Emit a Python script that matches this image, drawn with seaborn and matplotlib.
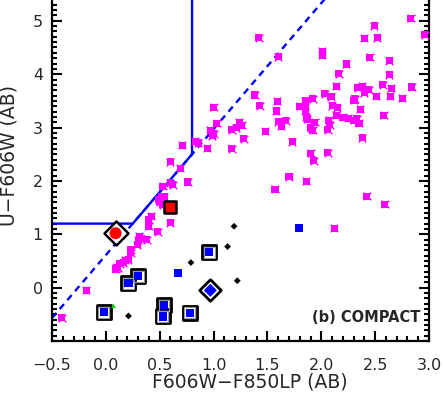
import matplotlib
matplotlib.use("Agg")
import matplotlib.pyplot as plt
import seaborn as sns
import numpy as np
import pandas as pd
from matplotlib.ticker import MultipleLocator, FixedLocator

# ---------------- data ----------------
mag_x = [1.42, 1.60, 2.01, 2.01, 2.83, 2.49, 2.40, 2.52, 2.96, 2.45, 2.23, 2.63, 2.16, 2.63,
         2.14, 2.34, 2.38, 2.44, 2.40, 2.57, 2.65, 2.84, 1.38, 1.43, 1.59, 1.58, 1.60, 1.63,
         1.67, 1.48, 1.28, 1.17, 1.17, 1.21, 1.24, 1.26, 1.73, 1.80, 1.85, 1.85, 1.85, 1.86,
         1.87, 1.92, 1.90, 1.92, 1.94, 2.03, 2.09, 2.10, 2.15, 2.14, 2.07, 2.08, 2.06, 2.20,
         2.25, 2.30, 2.33, 2.35, 2.30, 2.31, 2.36, 2.51, 2.64, 2.75, 2.58, 2.38, 1.90, 2.06,
         1.93, 1.70, 1.86, 1.57, 2.42, 2.59, 2.12,
         1.00, 1.03, 0.97, 1.00, 0.99, 0.83, 0.86, 0.71, 0.94, 0.60, 0.69, 0.76, 0.53, 0.60,
         0.62, 0.52, 0.54, 0.42, 0.40, 0.40, 0.48, 0.31, 0.33, 0.30, 0.38, 0.23, 0.23, 0.29,
         0.21, 0.18, 0.16, 0.13, 0.10, 0.09, 0.11, 0.49, -0.18, -0.41, 0.60, 0.59, 0.50, 0.53]
mag_y = [4.68, 4.33, 4.43, 4.36, 5.05, 4.91, 4.67, 4.68, 4.74, 4.32, 4.19, 4.25, 4.01, 3.99,
         3.77, 3.75, 3.77, 3.71, 3.65, 3.80, 3.74, 3.76, 3.61, 3.41, 3.49, 3.31, 3.11, 3.02,
         3.13, 2.93, 2.79, 2.60, 2.96, 3.00, 3.10, 3.04, 2.73, 3.40, 3.50, 3.41, 3.31, 3.20,
         3.16, 3.54, 3.00, 2.95, 3.10, 3.63, 3.58, 3.41, 3.37, 3.23, 3.14, 3.05, 2.96, 3.19,
         3.17, 3.14, 3.16, 3.08, 3.51, 3.54, 3.34, 3.59, 3.59, 3.55, 3.23, 2.81, 2.52, 2.53,
         2.38, 2.08, 1.99, 1.84, 1.71, 1.56, 1.11,
         3.38, 3.08, 2.95, 2.88, 2.85, 2.74, 2.71, 2.67, 2.61, 2.36, 2.24, 1.98, 1.90, 1.97,
         1.93, 1.70, 1.70, 1.34, 1.27, 1.15, 1.05, 0.96, 0.92, 0.89, 0.90, 0.71, 0.65, 0.80,
         0.52, 0.51, 0.47, 0.45, 0.38, 0.35, 0.37, 1.65, -0.05, -0.56, 1.22, 1.46, 1.61, 1.55]

framed_blue_x = [0.30, 0.21, -0.02, 0.54, 0.53, 0.78, 0.96]
framed_blue_y = [0.21, 0.08, -0.46, -0.33, -0.54, -0.47, 0.66]

plain_blue_x = [0.67, 1.79]
plain_blue_y = [0.27, 1.12]

diamond_blue_x = [0.97]
diamond_blue_y = [-0.05]

red_square_x = [0.60]
red_square_y = [1.52]

red_circle_x = [0.09]
red_circle_y = [1.02]

black_dia_x = [0.21, 0.79, 1.19, 1.13, 1.22]
black_dia_y = [-0.53, 0.47, 1.15, 0.77, 0.13]

green_x = [0.07]
green_y = [-0.34]

# selection boundary
box_x = [-0.5, 0.25, 0.80, 0.80]
box_y = [1.20, 1.20, 2.50, 5.40]
dash_x = [-0.5, 2.05]
dash_y = [-0.57, 5.45]

x_ticks = [-0.5, 0.0, 0.5, 1.0, 1.5, 2.0, 2.5, 3.0]
x_ticklabels = ["\u22120.5", "0.0", "0.5", "1.0", "1.5", "2.0", "2.5", "3.0"]
y_ticks = [0, 1, 2, 3, 4, 5]

# ---------------- plot ----------------
sns.set_style("white")
plt.rcParams['font.family'] = ['DejaVu Sans']

fig = plt.figure(figsize=(4.43, 3.98), dpi=100)
ax = fig.add_axes([0.1174, 0.1432, 0.8510, 0.8568])

blue = "#0000ff"
mag = "#ff00ff"

ax.plot(dash_x, dash_y, color=blue, lw=1.7, ls=(0, (2.8, 2.2)), zorder=2)
ax.plot(box_x, box_y, color=blue, lw=1.7, zorder=2)

df_m = pd.DataFrame({"x": mag_x, "y": mag_y})
sns.scatterplot(data=df_m, x="x", y="y", ax=ax, marker="s", s=26, color=mag,
                edgecolor="none", linewidth=0, zorder=3)
sns.scatterplot(data=df_m, x="x", y="y", ax=ax, marker="x", s=30, color=mag,
                linewidth=1.0, zorder=3)

# framed blue squares
df_fb = pd.DataFrame({"x": framed_blue_x, "y": framed_blue_y})
sns.scatterplot(data=df_fb, x="x", y="y", ax=ax, marker="s", s=100, facecolor="white",
                edgecolor="black", linewidth=2.0, zorder=4)
sns.scatterplot(data=df_fb, x="x", y="y", ax=ax, marker="s", s=62, facecolor="none",
                edgecolor="#999999", linewidth=0.8, zorder=4)
sns.scatterplot(data=df_fb, x="x", y="y", ax=ax, marker="s", s=34, color=blue,
                edgecolor="none", linewidth=0, zorder=5)

df_pb = pd.DataFrame({"x": plain_blue_x, "y": plain_blue_y})
sns.scatterplot(data=df_pb, x="x", y="y", ax=ax, marker="s", s=36, color=blue,
                edgecolor="none", linewidth=0, zorder=5)

df_db = pd.DataFrame({"x": diamond_blue_x, "y": diamond_blue_y})
sns.scatterplot(data=df_db, x="x", y="y", ax=ax, marker="D", s=120, facecolor="white",
                edgecolor="black", linewidth=2.0, zorder=4)
sns.scatterplot(data=df_db, x="x", y="y", ax=ax, marker="D", s=45, color=blue,
                edgecolor="none", linewidth=0, zorder=5)

df_rs = pd.DataFrame({"x": red_square_x, "y": red_square_y})
sns.scatterplot(data=df_rs, x="x", y="y", ax=ax, marker="s", s=80, color="red",
                edgecolor="black", linewidth=1.8, zorder=5)

df_rc = pd.DataFrame({"x": red_circle_x, "y": red_circle_y})
sns.scatterplot(data=df_rc, x="x", y="y", ax=ax, marker="D", s=150, facecolor="white",
                edgecolor="black", linewidth=1.8, zorder=4)
sns.scatterplot(data=df_rc, x="x", y="y", ax=ax, marker="o", s=75, color="red",
                edgecolor="none", linewidth=0, zorder=5)

df_bd = pd.DataFrame({"x": black_dia_x, "y": black_dia_y})
sns.scatterplot(data=df_bd, x="x", y="y", ax=ax, marker="D", s=12, color="black",
                edgecolor="none", linewidth=0, zorder=5)

df_g = pd.DataFrame({"x": green_x, "y": green_y})
sns.scatterplot(data=df_g, x="x", y="y", ax=ax, marker="^", s=12, color="#00dd00",
                edgecolor="none", linewidth=0, zorder=5)

ax.text(2.92, -0.56, "(b) COMPACT", ha="right", va="center", fontsize=10.5,
        fontweight="bold", zorder=6)

ax.set_xlim(-0.5, 3.0)
ax.set_ylim(-1.0, 5.39)
ax.xaxis.set_major_locator(FixedLocator(x_ticks))
ax.set_xticklabels(x_ticklabels)
ax.xaxis.set_minor_locator(MultipleLocator(0.1))
ax.yaxis.set_major_locator(FixedLocator(y_ticks))
ax.yaxis.set_minor_locator(MultipleLocator(0.1))

ax.tick_params(which="both", direction="in", bottom=True, top=False, left=True,
               right=True, width=1.5, color="black")
ax.tick_params(which="major", length=7)
ax.tick_params(which="minor", length=3.5)
ax.tick_params(axis="x", which="major", pad=12.5, labelsize=11.5)
ax.tick_params(axis="y", which="major", pad=6.5, labelsize=11.5)

for side in ["left", "right", "bottom"]:
    ax.spines[side].set_visible(True)
    ax.spines[side].set_linewidth(1.6)
    ax.spines[side].set_color("black")
ax.spines["top"].set_visible(False)

ax.set_xlabel("F606W\u2212F850LP (AB)", fontsize=13.5)
ax.set_ylabel("U\u2212F606W (AB)", fontsize=13.5)
ax.xaxis.set_label_coords(0.525, -0.092)
ax.yaxis.set_label_coords(-0.088, 0.545)

fig.savefig("out.png", dpi=100)
